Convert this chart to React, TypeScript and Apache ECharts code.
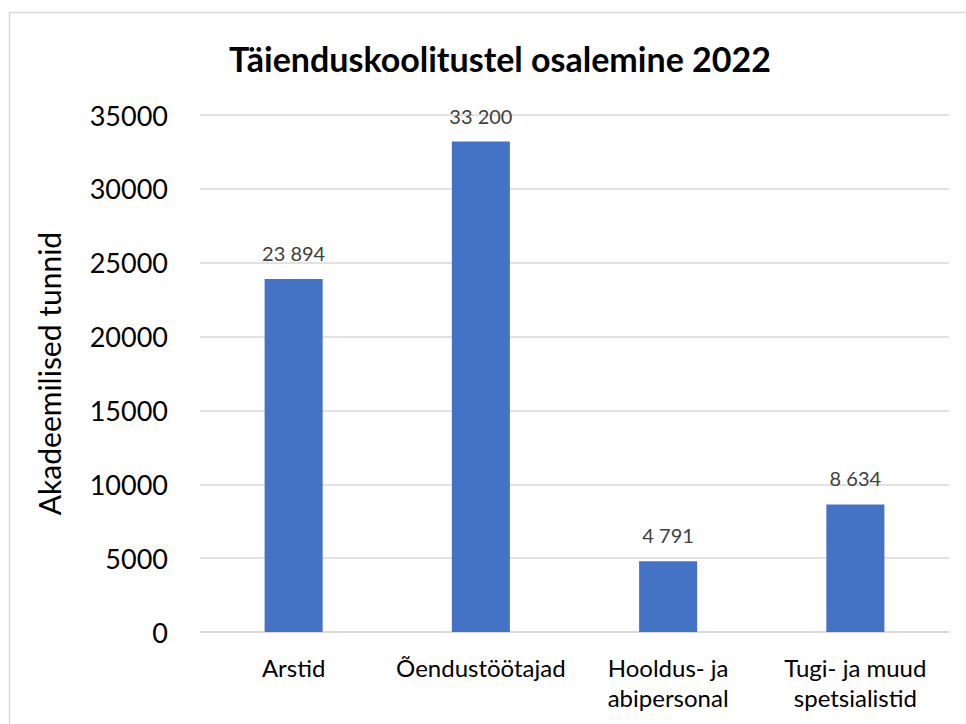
import React, { useEffect, useRef } from "react";
import * as echarts from "echarts";

const categories = ["Arstid", "Õendustöötajad", "Hooldus- ja\nabipersonal", "Tugi- ja muud\nspetsialistid"];
const values = [23894, 33200, 4791, 8634];
const titleText = "Täienduskoolitustel osalemine 2022";
const yAxisName = "Akadeemilised tunnid";

const FONT = "Lato, 'Open Sans', sans-serif";

export default function App() {
  const ref = useRef<HTMLDivElement>(null);
  useEffect(() => {
    if (!ref.current) return;
    const chart = echarts.init(ref.current, null, { renderer: "svg" });
    chart.setOption({
      animation: false,
      backgroundColor: "#ffffff",
      title: {
        text: titleText,
        left: 495,
        top: 36,
        textAlign: "center",
        textStyle: { fontFamily: FONT, fontSize: 34, fontWeight: "bold", color: "#000000" },
      },
      graphic: [
        {
          type: "rect",
          shape: { x: 9.5, y: 12.5, width: 1000, height: 800 },
          style: { fill: "none", stroke: "#d9d9d9", lineWidth: 1.5 },
          silent: true,
        },
      ],
      grid: { left: 200, right: 17, top: 115, bottom: 92 },
      xAxis: {
        type: "category",
        data: categories,
        axisLine: { lineStyle: { color: "#d9d9d9", width: 1.5 } },
        axisTick: { show: false },
        axisLabel: {
          fontFamily: FONT,
          fontSize: 24,
          color: "#000000",
          margin: 20,
          lineHeight: 30,
          interval: 0,
        },
      },
      yAxis: {
        type: "value",
        min: 0,
        max: 35000,
        interval: 5000,
        name: yAxisName,
        nameLocation: "middle",
        nameGap: 136,
        nameRotate: 90,
        nameTextStyle: { fontFamily: FONT, fontSize: 30, color: "#000000" },
        axisLine: { show: false },
        axisTick: { show: false },
        splitLine: { lineStyle: { color: "#d9d9d9", width: 1.5 } },
        axisLabel: {
          fontFamily: FONT,
          fontSize: 27,
          color: "#000000",
          margin: 32,
          formatter: (v: number) => String(v),
        },
      },
      series: [
        {
          type: "bar",
          data: values,
          barWidth: "31%",
          itemStyle: { color: "#4472C4" },
          label: {
            show: true,
            position: "top",
            distance: 16,
            fontFamily: FONT,
            fontSize: 20,
            color: "#404040",
            formatter: (p: any) => String(p.value).replace(/\B(?=(\d{3})+(?!\d))/g, " "),
          },
        },
      ],
    });
    return () => chart.dispose();
  }, []);
  return (
    <div
      ref={ref}
      style={{ position: "fixed", left: 0, top: 0, width: 966, height: 724 }}
    />
  );
}
